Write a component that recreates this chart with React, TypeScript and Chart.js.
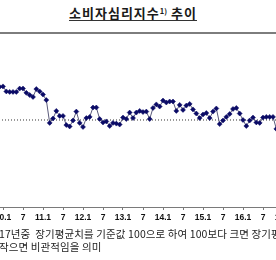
import React, { useEffect, useRef } from "react";
import { Chart, registerables } from "chart.js";

Chart.register(...registerables);

// ---- data ----
const months: string[] = [
  "2009.12",
  "2010.1", "2010.2", "2010.3", "2010.4", "2010.5", "2010.6", "2010.7", "2010.8", "2010.9", "2010.10", "2010.11", "2010.12",
  "2011.1", "2011.2", "2011.3", "2011.4", "2011.5", "2011.6", "2011.7", "2011.8", "2011.9", "2011.10", "2011.11", "2011.12",
  "2012.1", "2012.2", "2012.3", "2012.4", "2012.5", "2012.6", "2012.7", "2012.8", "2012.9", "2012.10", "2012.11", "2012.12",
  "2013.1", "2013.2", "2013.3", "2013.4", "2013.5", "2013.6", "2013.7", "2013.8", "2013.9", "2013.10", "2013.11", "2013.12",
  "2014.1", "2014.2", "2014.3", "2014.4", "2014.5", "2014.6", "2014.7", "2014.8", "2014.9", "2014.10", "2014.11", "2014.12",
  "2015.1", "2015.2", "2015.3", "2015.4", "2015.5", "2015.6", "2015.7", "2015.8", "2015.9", "2015.10", "2015.11", "2015.12",
  "2016.1", "2016.2", "2016.3", "2016.4", "2016.5", "2016.6", "2016.7", "2016.8", "2016.9", "2016.10", "2016.11",
];

const csi: number[] = [
  113.8,
  114.0, 111.9, 111.7, 111.7, 111.7, 113.1, 113.1, 111.3, 110.4, 109.6, 112.9, 111.9,
  110.6, 108.3, 98.8, 100.6, 103.8, 101.7, 101.7, 97.9, 97.3, 99.8, 103.5, 98.8,
  97.1, 100.8, 101.3, 105.2, 105.2, 100.4, 99.0, 99.4, 97.5, 98.8, 98.5, 98.1,
  101.0, 100.4, 103.1, 100.8, 103.1, 103.8, 103.3, 103.5, 100.4, 105.0, 106.5, 105.6,
  108.1, 107.3, 107.7, 107.7, 103.8, 106.3, 104.2, 106.0, 106.7, 104.4, 102.7, 100.8,
  102.3, 102.9, 100.8, 103.5, 104.8, 98.3, 99.8, 101.3, 102.5, 104.6, 105.0, 102.7,
  100.0, 97.5, 99.8, 101.0, 99.0, 98.8, 101.0, 101.3, 101.3, 101.3, 96.3,
];

const tickMonths: string[] = [
  "2010.1", "2010.7", "2011.1", "2011.7", "2012.1", "2012.7", "2013.1", "2013.7",
  "2014.1", "2014.7", "2015.1", "2015.7", "2016.1", "2016.7", "2017.1",
];
const tickLabels: string[] = [
  "10.1", "7", "11.1", "7", "12.1", "7", "13.1", "7",
  "14.1", "7", "15.1", "7", "16.1", "7", "17.1",
];

const baseline = 100;

const monthIndex = (s: string) => {
  const [y, m] = s.split(".").map(Number);
  return (y - 2010) * 12 + (m - 1);
};

function CsiChart() {
  const ref = useRef<HTMLCanvasElement | null>(null);

  useEffect(() => {
    if (!ref.current) return;
    const pts = months.map((m, i) => ({ x: monthIndex(m), y: csi[i] }));
    const tickIdx = tickMonths.map(monthIndex);
    const chart = new Chart(ref.current, {
      type: "line",
      data: {
        datasets: [
          {
            data: pts,
            borderColor: "#5a5a7a",
            borderWidth: 1,
            pointStyle: "rectRot",
            pointRadius: 2.5,
            pointBackgroundColor: "#0b0b66",
            pointBorderColor: "#0b0b66",
            pointBorderWidth: 0.5,
            tension: 0,
            order: 1,
          },
          {
            data: [
              { x: -3, y: baseline },
              { x: 92, y: baseline },
            ],
            borderColor: "#333333",
            borderWidth: 1,
            borderDash: [1, 2],
            pointRadius: 0,
            order: 2,
          },
        ],
      },
      options: {
        responsive: false,
        animation: false,
        events: [],
        layout: { padding: 0, autoPadding: false },
        plugins: { legend: { display: false }, tooltip: { enabled: false }, title: { display: false } },
        scales: {
          x: {
            type: "linear",
            min: -0.9,
            max: 89.1,
            offset: false,
            border: { display: true, color: "#7a7a7a", width: 1 },
            grid: { display: true, drawOnChartArea: false, drawTicks: true, tickLength: 3, color: "#7a7a7a" },
            ticks: {
              autoSkip: false,
              maxRotation: 0,
              padding: 3,
              color: "#111",
              font: { family: "'Liberation Sans', Arial, sans-serif", size: 8.5, weight: "bold" },
              callback: (v: any) => {
                const k = tickIdx.indexOf(Number(v));
                return k >= 0 ? tickLabels[k] : "";
              },
            },
            afterBuildTicks: (s: any) => {
              s.ticks = tickIdx.map((v) => ({ value: v }));
            },
            afterFit: (s: any) => {
              s.paddingLeft = 0;
              s.paddingRight = 0;
              s.paddingTop = 0;
              s.paddingBottom = 0;
              s.height = 23;
            },
          },
          y: {
            display: false,
            min: 63.75,
            max: 133.33,
          },
        },
      },
    });
    return () => chart.destroy();
  }, []);

  return <canvas ref={ref} width={300} height={190} style={{ position: "absolute", left: 0, top: 40, width: 300, height: 190 }} />;
}

export default function App() {
  return (
    <div
      style={{
        position: "fixed",
        left: 0,
        top: 0,
        width: 276,
        height: 260,
        overflow: "hidden",
        background: "#fff",
      }}
    >
      <div style={{ position: "absolute", left: 0, top: 4, width: 266, textAlign: "center" }}>
        <span
          style={{
            display: "inline-block",
            fontFamily: "'Noto Sans CJK KR', sans-serif",
            fontWeight: 700,
            fontSize: 13,
            lineHeight: "13px",
            letterSpacing: 1,
            color: "#1a1a1a",
            borderBottom: "1.5px solid #333",
            paddingBottom: 1,
          }}
        >
          소비자심리지수
          <sup style={{ fontSize: 7.5, lineHeight: 0, verticalAlign: "4px", letterSpacing: 0 }}>1)</sup>
          {" "}추이
        </span>
      </div>
      <div style={{ position: "absolute", left: 0, top: 32, width: 276, height: 2, background: "#7d7d7d" }} />
      <CsiChart />
      <div
        style={{
          position: "absolute",
          left: -1,
          top: 227,
          whiteSpace: "nowrap",
          fontFamily: "'Noto Sans CJK KR', sans-serif",
          fontSize: 10.5,
          lineHeight: "13px",
          letterSpacing: 0.1,
          color: "#222",
        }}
      >
        <div>17년중&nbsp;&nbsp;장기평균치를 기준값 100으로 하여 100보다 크면 장기평균보다 낙관적,</div>
        <div>작으면 비관적임을 의미</div>
      </div>
    </div>
  );
}
